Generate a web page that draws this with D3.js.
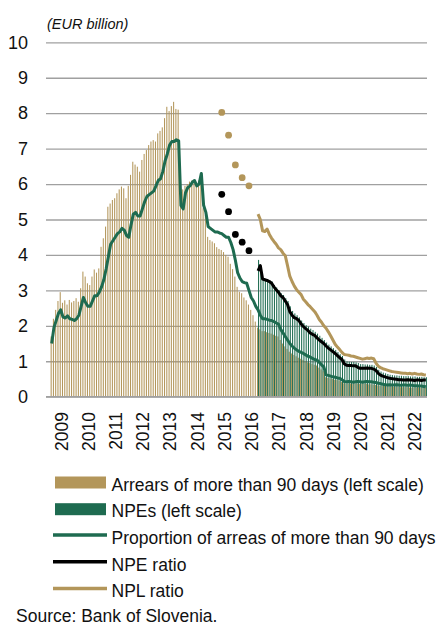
<!DOCTYPE html>
<html>
<head>
<meta charset="utf-8">
<script src="https://cdn.jsdelivr.net/npm/d3@7"></script>
<style>
  body { margin: 0; background: #fff; }
  svg text { font-family: "Liberation Sans", Arial, sans-serif; fill: #111; }
</style>
</head>
<body>
<div id="chart"></div>
<script>
// categories: monthly, Jan 2009 - Dec 2022
const months = d3.timeMonth.range(new Date(2009, 0, 1), new Date(2023, 0, 1)).map(d3.timeFormat("%Y-%m"));
const yearLabels = ["2009", "2010", "2011", "2012", "2013", "2014", "2015", "2016", "2017", "2018", "2019", "2020", "2021", "2022"];
const yTicks = [0, 1, 2, 3, 4, 5, 6, 7, 8, 9, 10];

// arrears of more than 90 days, EUR billion (from Mar 2009)
const arrearsStart = "2009-03";
const arrears = [
  1.7, 2.2, 2.45, 2.7, 2.95, 2.65, 2.72, 2.6, 2.73, 2.66,
  2.7, 2.78, 2.68, 3.06, 3.53, 3.39, 3.2, 3.15, 3.39, 3.59, 3.5, 3.62,
  4.23, 4.47, 4.8, 5.36, 5.45, 5.55, 5.6, 5.74, 5.85, 5.93, 5.88, 5.6,
  5.95, 6.26, 6.63, 6.55, 6.49, 6.35, 6.68, 6.85, 6.96, 7.1, 7.2, 7.24,
  7.2, 7.43, 7.5, 7.6, 7.86, 8.18, 8.06, 8.2, 8.32, 8.12, 8.1, 5.6,
  5.85, 5.95, 6.0, 6.07, 6.1, 6.05, 6.02, 6.1, 6.15, 5.32, 5.13, 4.51,
  4.42, 4.38, 4.33, 4.22, 4.17, 4.14, 4.08, 4.0, 3.95, 3.75, 3.6, 3.39,
  3.1, 2.96, 2.92, 2.8, 2.72, 2.6, 2.45, 2.3, 2.12, 1.95, 1.9, 1.85,
  1.85, 1.82, 1.8, 1.78, 1.75, 1.72, 1.7, 1.6, 1.5, 1.42, 1.35, 1.27,
  1.22, 1.18, 1.14, 1.1, 1.07, 1.04, 1.0, 0.97, 0.95, 0.93, 0.9, 0.88,
  0.82, 0.77, 0.72, 0.55, 0.53, 0.52, 0.5, 0.48, 0.47, 0.46, 0.42, 0.38,
  0.37, 0.37, 0.37, 0.36, 0.37, 0.37, 0.36, 0.36, 0.37, 0.36, 0.35, 0.35,
  0.34, 0.33, 0.32, 0.31, 0.3, 0.3, 0.29, 0.29, 0.29, 0.28, 0.28, 0.28,
  0.27, 0.27, 0.27, 0.27, 0.26, 0.26, 0.26, 0.26, 0.26, 0.25, 0.25, 0.25
];

// proportion of arrears of more than 90 days (from Mar 2009)
const arrearsShare = [
  1.5, 1.95, 2.15, 2.35, 2.45, 2.25, 2.22, 2.28, 2.2, 2.18,
  2.15, 2.2, 2.3, 2.55, 2.8, 2.65, 2.55, 2.55, 2.7, 2.85, 2.85, 2.95,
  3.1, 3.3, 3.6, 3.95, 4.3, 4.4, 4.5, 4.6, 4.65, 4.75, 4.7, 4.55,
  4.5, 4.85, 5.15, 5.2, 5.1, 5.1, 5.3, 5.5, 5.65, 5.7, 5.75, 5.8,
  5.95, 6.1, 6.15, 6.35, 6.65, 6.85, 7.1, 7.2, 7.2, 7.25, 7.22, 5.4,
  5.3, 5.75, 5.9, 5.95, 6.05, 6.1, 5.95, 6.0, 6.3, 5.4, 5.2, 4.8,
  4.75, 4.7, 4.65, 4.65, 4.62, 4.6, 4.55, 4.5, 4.5, 4.35, 4.15, 3.85,
  3.5, 3.35, 3.25, 3.22, 3.2, 3.0, 2.8, 2.7, 2.55, 2.45, 2.3, 2.2,
  2.2, 2.18, 2.16, 2.15, 2.12, 2.08, 2.05, 1.9, 1.8, 1.7, 1.6, 1.5,
  1.43, 1.37, 1.32, 1.28, 1.25, 1.22, 1.18, 1.14, 1.12, 1.08, 1.05, 1.03,
  0.97, 0.9, 0.84, 0.62, 0.6, 0.58, 0.56, 0.55, 0.53, 0.52, 0.48, 0.43,
  0.42, 0.43, 0.42, 0.41, 0.42, 0.43, 0.42, 0.41, 0.42, 0.43, 0.42, 0.42,
  0.41, 0.4, 0.38, 0.37, 0.35, 0.34, 0.33, 0.34, 0.33, 0.33, 0.34, 0.33,
  0.32, 0.33, 0.33, 0.32, 0.33, 0.32, 0.31, 0.31, 0.3, 0.3, 0.29, 0.28
];

// NPEs (EUR billion), NPE ratio, NPL ratio (from Oct 2016)
const npeStart = "2016-10";
const npe = [
  3.86, 3.5, 3.34,
  3.32, 3.29, 3.27, 3.25, 3.15, 3.08, 3.01, 2.92, 2.87, 2.78, 2.7, 2.55,
  2.42, 2.35, 2.3, 2.24, 2.15, 2.08, 2.02, 1.98, 1.92, 1.88, 1.83, 1.78,
  1.72, 1.66, 1.6, 1.53, 1.47, 1.42, 1.37, 1.32, 1.26, 1.2, 1.15, 1.05,
  1.0, 0.99, 0.98, 0.98, 0.97, 0.95, 0.92, 0.92, 0.91, 0.91, 0.9, 0.9,
  0.88, 0.84, 0.76, 0.71, 0.68, 0.66, 0.64, 0.62, 0.61, 0.6, 0.6, 0.59,
  0.59, 0.58, 0.58, 0.58, 0.57, 0.57, 0.57, 0.56, 0.56, 0.56, 0.55, 0.55
];
const npeRatio = [
  3.55, 3.7, 3.32,
  3.3, 3.28, 3.25, 3.2, 3.1, 3.02, 2.95, 2.85, 2.8, 2.7, 2.6, 2.4,
  2.3, 2.23, 2.2, 2.15, 2.05, 1.98, 1.92, 1.87, 1.8, 1.76, 1.73, 1.66,
  1.6, 1.55, 1.5, 1.43, 1.37, 1.32, 1.27, 1.22, 1.16, 1.1, 1.05, 0.93,
  0.89, 0.88, 0.88, 0.87, 0.87, 0.83, 0.8, 0.8, 0.8, 0.81, 0.8, 0.8,
  0.78, 0.74, 0.66, 0.61, 0.58, 0.56, 0.54, 0.52, 0.51, 0.5, 0.49, 0.48,
  0.48, 0.47, 0.47, 0.48, 0.47, 0.47, 0.46, 0.47, 0.47, 0.46, 0.47, 0.47
];
const nplRatio = [
  5.15, 5.0, 4.68,
  4.66, 4.73, 4.58, 4.47, 4.38, 4.3, 4.2, 4.15, 4.05, 3.98, 3.7, 3.4,
  3.25, 3.12, 3.02, 2.95, 2.88, 2.75, 2.68, 2.6, 2.54, 2.47, 2.4, 2.3,
  2.18, 2.1, 2.0, 1.93, 1.83, 1.72, 1.6, 1.48, 1.4, 1.33, 1.25, 1.19,
  1.18, 1.17, 1.15, 1.14, 1.12, 1.1, 1.08, 1.06, 1.07, 1.09, 1.08, 1.09,
  1.07, 0.95, 0.86, 0.82, 0.79, 0.77, 0.75, 0.73, 0.71, 0.7, 0.69, 0.68,
  0.67, 0.66, 0.66, 0.65, 0.66, 0.64, 0.66, 0.64, 0.63, 0.64, 0.62, 0.61
];

// quarterly ratios before the monthly series
const dotMonths = ["2015-06", "2015-09", "2015-12", "2016-03", "2016-06"];
const nplDots = [8.02, 7.38, 6.54, 6.18, 5.95];
const npeDots = [5.71, 5.22, 4.58, 4.36, 4.12];

const legendItems = [
  { label: "Arrears of more than 90 days (left scale)", type: "bar", color: "#b3965a" },
  { label: "NPEs (left scale)", type: "bar", color: "#1e6b50" },
  { label: "Proportion of arreas of more than 90 days", type: "line", color: "#1e6b50" },
  { label: "NPE ratio", type: "line", color: "#000000" },
  { label: "NPL ratio", type: "line", color: "#b3965a" }
];

const gold = "#b3965a";
const green = "#1e6b50";

function toPoints(values, start) {
  const i0 = months.indexOf(start);
  return values.map((v, i) => ({ m: months[i0 + i], v: v }));
}

const svg = d3.select("#chart").append("svg")
  .attr("width", 439)
  .attr("height", 627);

const x = d3.scaleBand().domain(months).range([46, 427]).padding(0);
const xYear = d3.scaleBand().domain(yearLabels).range([46, 427]);
const y = d3.scaleLinear().domain([0, 10]).range([396.7, 42.3]);
const bw = x.bandwidth();

// gridlines + y labels
const yAxis = svg.append("g")
  .attr("transform", "translate(46,0)")
  .call(d3.axisLeft(y).tickValues(yTicks).tickSize(-381).tickPadding(18).tickFormat(d3.format("d")));
yAxis.select(".domain").remove();
yAxis.selectAll(".tick line").attr("stroke", "#a0a0a0").attr("stroke-width", 1.3);
yAxis.selectAll(".tick text").attr("font-size", 18).attr("fill", "#111");

svg.append("text")
  .attr("x", 47).attr("y", 29)
  .attr("font-size", 14.5).attr("font-style", "italic")
  .text("(EUR billion)");

// bars
svg.append("g").selectAll("rect")
  .data(toPoints(arrears, arrearsStart))
  .enter().append("rect")
  .attr("x", d => x(d.m) + bw * 0.04)
  .attr("width", bw * 0.46)
  .attr("y", d => y(d.v))
  .attr("height", d => y(0) - y(d.v))
  .attr("fill", gold);

svg.append("g").selectAll("rect")
  .data(toPoints(npe, npeStart))
  .enter().append("rect")
  .attr("x", d => x(d.m) + bw * 0.5)
  .attr("width", bw * 0.46)
  .attr("y", d => y(d.v))
  .attr("height", d => y(0) - y(d.v))
  .attr("fill", green);

// x axis line
svg.append("line")
  .attr("x1", 46).attr("x2", 427)
  .attr("y1", y(0)).attr("y2", y(0))
  .attr("stroke", "#a0a0a0").attr("stroke-width", 1.5);

// lines
const line = d3.line()
  .x(d => x(d.m) + bw / 2)
  .y(d => y(d.v));

[[arrearsShare, arrearsStart, green], [npeRatio, npeStart, "#000"], [nplRatio, npeStart, gold]].forEach(s => {
  svg.append("path")
    .datum(toPoints(s[0], s[1]))
    .attr("d", line)
    .attr("fill", "none")
    .attr("stroke", s[2])
    .attr("stroke-width", 3)
    .attr("stroke-linejoin", "round");
});

// quarterly dots
svg.append("g").selectAll("circle")
  .data(dotMonths.map((m, i) => ({ m: m, v: nplDots[i] })))
  .enter().append("circle")
  .attr("cx", d => x(d.m) + bw / 2)
  .attr("cy", d => y(d.v))
  .attr("r", 3.4)
  .attr("fill", gold);

svg.append("g").selectAll("circle")
  .data(dotMonths.map((m, i) => ({ m: m, v: npeDots[i] })))
  .enter().append("circle")
  .attr("cx", d => x(d.m) + bw / 2)
  .attr("cy", d => y(d.v))
  .attr("r", 3.4)
  .attr("fill", "#000");

// year labels, rotated
svg.append("g").selectAll("text")
  .data(yearLabels)
  .enter().append("text")
  .attr("transform", d => "translate(" + (xYear(d) + xYear.bandwidth() / 2 + 8) + ",412) rotate(-90)")
  .attr("text-anchor", "end")
  .attr("font-size", 17.5)
  .text(d => d);

// legend
const legend = svg.append("g").selectAll("g")
  .data(legendItems)
  .enter().append("g")
  .attr("transform", (d, i) => "translate(0," + (490.5 + i * 26.7) + ")");

legend.filter(d => d.type === "bar").append("rect")
  .attr("x", 55).attr("y", -14).attr("width", 51).attr("height", 12)
  .attr("fill", d => d.color);

legend.filter(d => d.type === "line").append("line")
  .attr("x1", 53).attr("x2", 107).attr("y1", -8.8).attr("y2", -8.8)
  .attr("stroke", d => d.color).attr("stroke-width", 3.5);

legend.append("text")
  .attr("x", 111.5).attr("y", 0)
  .attr("font-size", 17.5)
  .text(d => d.label);

svg.append("text")
  .attr("x", 16).attr("y", 622)
  .attr("font-size", 17.5)
  .text("Source: Bank of Slovenia.");
</script>
</body>
</html>
